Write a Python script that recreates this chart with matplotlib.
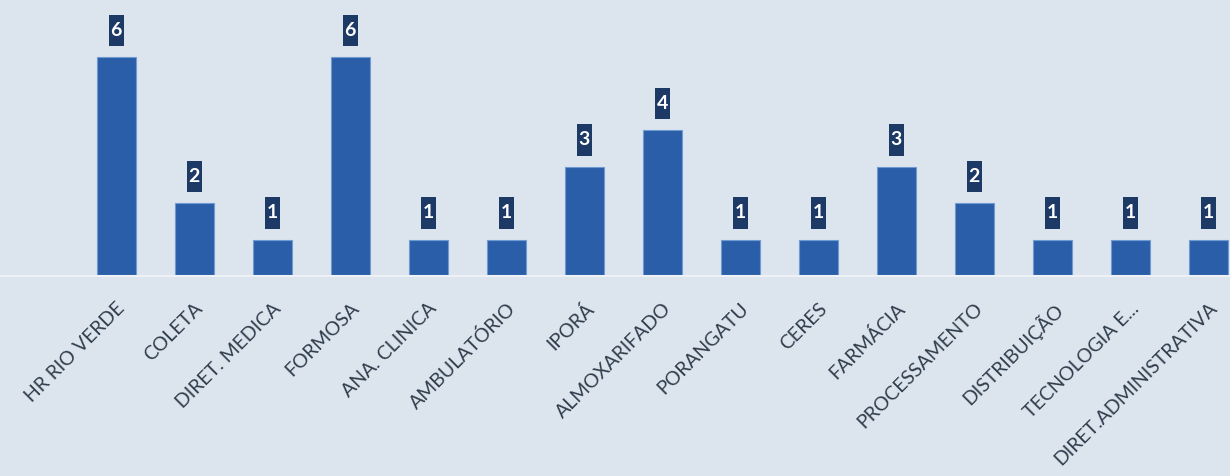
import matplotlib.pyplot as plt
import numpy as np
from matplotlib.path import Path

setores = ['HR RIO VERDE', 'COLETA', 'DIRET. MEDICA', 'FORMOSA', 'ANA. CLINICA',
           'AMBULATÓRIO', 'IPORÁ', 'ALMOXARIFADO', 'PORANGATU', 'CERES',
           'FARMÁCIA', 'PROCESSAMENTO', 'DISTRIBUIÇÃO', 'TECNOLOGIA E...',
           'DIRET.ADMINISTRATIVA']
valores = [6, 2, 1, 6, 1, 1, 3, 4, 1, 1, 3, 2, 1, 1, 1]

fundo = '#dce4ed'
azul = '#2a5ea8'
marinho = '#1d3a66'


# caixa estreita e alta para os rotulos de valor
def caixa_alta(x0, y0, width, height, mutation_size):
    px = 0.1 * mutation_size
    py = 0.38 * mutation_size
    x0, x1 = x0 - px, x0 + width + px
    y0, y1 = y0 - py, y0 + height + py
    return Path([(x0, y0), (x1, y0), (x1, y1), (x0, y1), (x0, y0)], closed=True)


fig = plt.figure(figsize=(12.3, 4.76), dpi=100, facecolor=fundo)
ax = fig.add_axes([0, 200 / 476, 1, 276 / 476])
ax.set_facecolor(fundo)

x = np.arange(len(setores))
bars = ax.bar(x, valores, width=0.5, color=azul, edgecolor='#6f9bd3', linewidth=0.8)

for xi, v in zip(x, valores):
    ax.annotate(str(v), (xi, v), xytext=(0, 13), textcoords='offset points',
                ha='center', va='bottom', color='white', fontsize=14,
                fontweight='bold', family='Lato',
                bbox=dict(boxstyle=caixa_alta, facecolor=marinho, edgecolor='none'))

ax.set_xlim(-1.49, 14.28)
ax.set_ylim(0, 276 / 36.5)
ax.set_xticks(x)
ax.set_xticklabels(setores, rotation=45, ha='right', va='top',
                   rotation_mode='anchor', fontsize=14, family='Lato',
                   color='#2f3d4c')
ax.tick_params(axis='x', length=0, pad=17)
ax.set_yticks([])
for s in ['top', 'right', 'left']:
    ax.spines[s].set_visible(False)
ax.spines['bottom'].set_color('#eef2f7')
ax.spines['bottom'].set_linewidth(1.5)

fig.savefig('out.png', dpi=100, facecolor=fundo)
